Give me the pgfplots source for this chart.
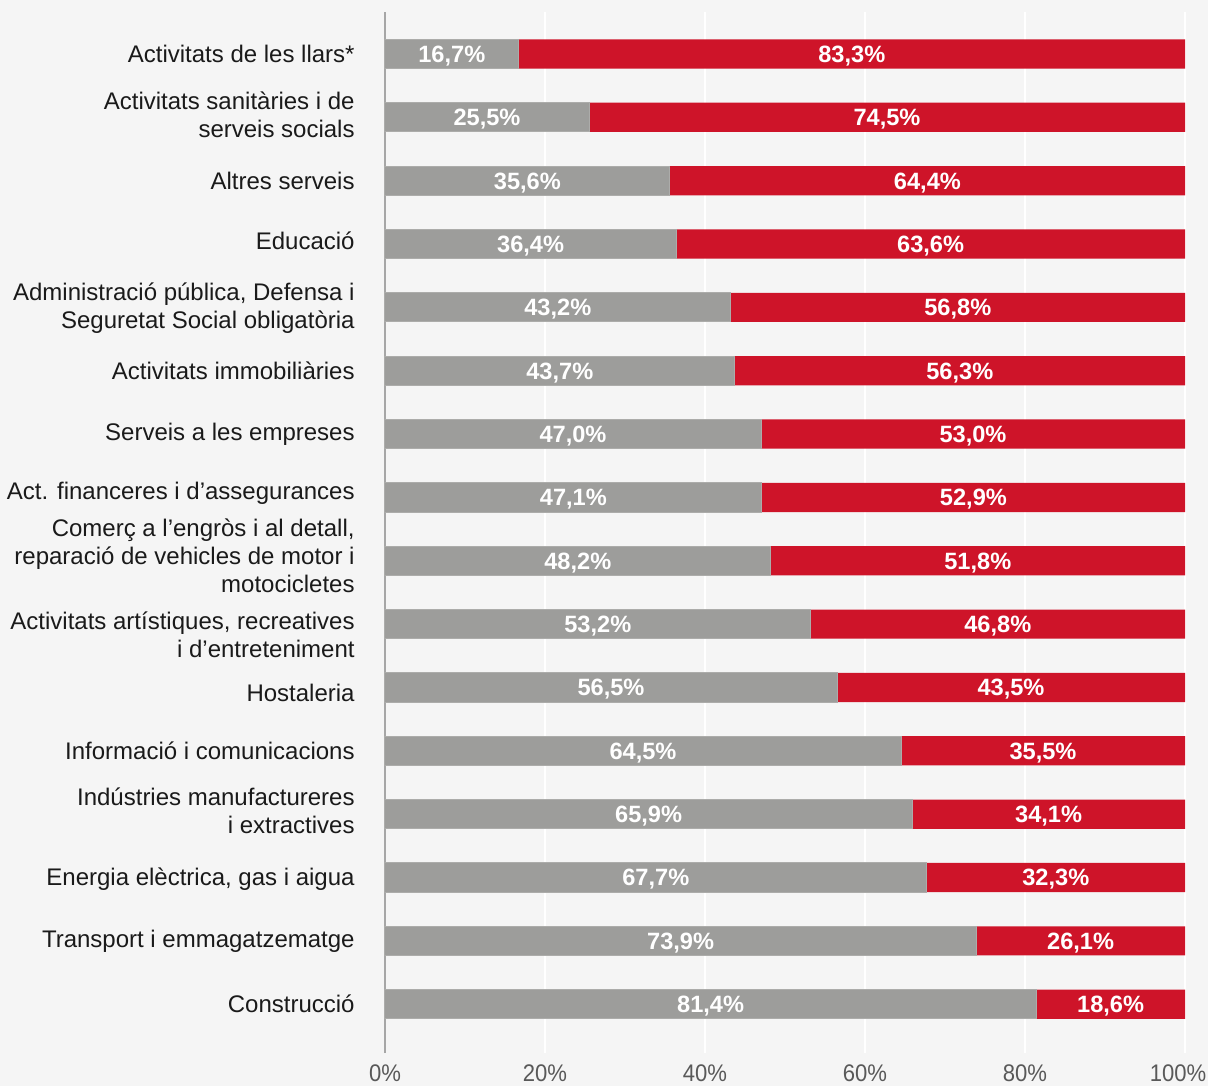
\documentclass[border=0pt]{standalone}
\usepackage{pgfplots}
\pgfplotsset{compat=1.18}
\usepackage{pgfplotstable}
\usepackage{fontspec}
\setmainfont{Liberation Sans}
\newfontfamily\ticknarrow[FakeStretch=0.92]{Liberation Sans}
\definecolor{bgc}{HTML}{F5F5F5}
\definecolor{bargray}{HTML}{9D9D9B}
\definecolor{barred}{HTML}{CE1429}
\definecolor{axgray}{HTML}{A6A6A6}
\definecolor{tickgray}{HTML}{595959}
\definecolor{labblack}{HTML}{1A1A1A}

\pgfplotstableread{
y g r
15 16.7 83.3
14 25.5 74.5
13 35.6 64.4
12 36.4 63.6
11 43.2 56.8
10 43.7 56.3
9 47.0 53.0
8 47.1 52.9
7 48.2 51.8
6 53.2 46.8
5 56.5 43.5
4 64.5 35.5
3 65.9 34.1
2 67.7 32.3
1 73.9 26.1
0 81.4 18.6
}\datatable

\begin{document}
\begin{tikzpicture}
\fill[bgc] (-192.5pt,-16.5pt) rectangle (411.5pt,526.5pt);
\begin{axis}[
  at={(0,0)}, anchor=south west,
  scale only axis, width=400pt, height=520.5pt,
  xmin=0, xmax=100, ymin=-0.77, ymax=15.663,
  axis x line*=bottom, axis y line*=left,
  x axis line style={draw=none},
  y axis line style={draw=axgray, line width=1pt},
  xtick={0,20,40,60,80},
  xticklabels={0\%,20\%,40\%,60\%,80\%},
  extra x ticks={100},
  extra x tick labels={100\%},
  extra x tick style={grid=major, xticklabel style={xshift=-3.5pt}},
  xticklabel style={anchor=base, yshift=-14.2pt, text=tickgray, font=\ticknarrow\fontsize{12}{13}\selectfont},
  ytick={0,1,1.97,3.055,4,4.92,5.826,7.08,8.063,9,10,10.99,12.05,13,14.04,15},
  yticklabels={
    Construcció,
    Transport i emmagatzematge,
    {Energia elèctrica, gas i aigua},
    {Indústries manufactureres\\i extractives},
    Informació i comunicacions,
    Hostaleria,
    {Activitats artístiques, recreatives\\i d’entreteniment},
    {Comerç a l’engròs i al detall,\\reparació de vehicles de motor i\\motocicletes},
    Act. financeres i d’assegurances,
    Serveis a les empreses,
    Activitats immobiliàries,
    {Administració pública, Defensa i\\Seguretat Social obligatòria},
    Educació,
    Altres serveis,
    {Activitats sanitàries i de\\serveis socials},
    Activitats de les llars*
  },
  yticklabel style={anchor=east, inner sep=0pt, xshift=-15pt, align=right, text=labblack, font=\fontsize{12}{14}\selectfont},
  tick style={draw=none},
  xmajorgrids, grid style={white, line width=0.75pt},
  clip=false,
]
\addplot[xbar, bar width=14.6pt, bar shift=0pt, fill=barred, draw=none] table[x expr=\thisrow{g}+\thisrow{r}, y=y]{\datatable};
\addplot[xbar, bar width=14.6pt, bar shift=0pt, fill=bargray, draw=bargray!85!white, line width=0.5pt] table[x=g, y=y]{\datatable};
\addplot[only marks, mark=none, point meta=explicit,
  nodes near coords={\pgfmathprintnumber[fixed,fixed zerofill,precision=1,use comma,assume math mode=true]{\pgfplotspointmeta}\%},
  nodes near coords style={anchor=base, yshift=-4.2pt, text=white, inner sep=0pt, font=\bfseries\fontsize{11.8}{12}\selectfont}]
  table[x expr=\thisrow{g}/2, y=y, meta=g]{\datatable};
\addplot[only marks, mark=none, point meta=explicit,
  nodes near coords={\pgfmathprintnumber[fixed,fixed zerofill,precision=1,use comma,assume math mode=true]{\pgfplotspointmeta}\%},
  nodes near coords style={anchor=base, yshift=-4.2pt, text=white, inner sep=0pt, font=\bfseries\fontsize{11.8}{12}\selectfont}]
  table[x expr=\thisrow{g}+\thisrow{r}/2, y=y, meta=r]{\datatable};
\end{axis}
\pgfresetboundingbox
\useasboundingbox (-192.5pt,-16.5pt) rectangle (411.5pt,526.5pt);
\end{tikzpicture}
\end{document}
